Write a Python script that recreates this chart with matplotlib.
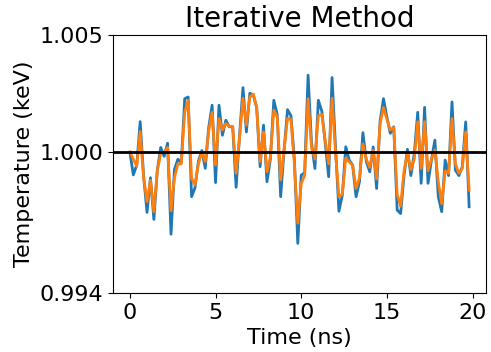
import matplotlib
matplotlib.use("Agg")
import matplotlib.pyplot as plt
import numpy as np

DT = 0.2  # ns between samples

TEMP_RAW = [
    1.00000, 0.99903, 0.99945, 1.00130, 0.99900, 0.99743, 0.99891, 0.99713, 0.99923, 1.00020,
    0.99982, 1.00038, 0.99650, 0.99926, 0.99970, 0.99955, 1.00228, 1.00235, 0.99810, 0.99848,
    0.99962, 1.00007, 0.99931, 1.00105, 1.00200, 0.99870, 1.00200, 1.00072, 1.00136, 1.00108,
    1.00108, 0.99850, 1.00070, 1.00275, 1.00086, 1.00251, 1.00243, 1.00190, 0.99938, 1.00115,
    0.99874, 0.99970, 1.00221, 1.00160, 0.99810, 1.00009, 1.00181, 1.00155, 0.99970, 0.99611,
    0.99902, 0.99912, 1.00328, 1.00040, 0.99930, 1.00221, 1.00175, 1.00040, 0.99895, 1.00318,
    1.00025, 0.99748, 0.99817, 1.00023, 0.99966, 0.99945, 0.99810, 0.99874, 1.00083, 0.99960,
    0.99916, 1.00022, 0.99845, 1.00130, 1.00228, 1.00150, 1.00080, 1.00108, 0.99753, 0.99738,
    0.99900, 1.00012, 0.99900, 0.99995, 1.00170, 0.99867, 1.00191, 0.99867, 0.99966, 1.00051,
    0.99810, 0.99746, 0.99966, 0.99900, 1.00214, 0.99923, 0.99900, 0.99938, 1.00129, 0.99767,
]

TEMP_ITER = [
    1.00000, 0.99970, 0.99940, 1.00088, 0.99890, 0.99789, 0.99880, 0.99746, 0.99920, 0.99996,
    1.00000, 1.00020, 0.99750, 0.99890, 0.99950, 0.99950, 1.00170, 1.00221, 0.99888, 0.99860,
    0.99950, 1.00000, 0.99960, 1.00090, 1.00170, 0.99945, 1.00143, 1.00094, 1.00122, 1.00110,
    1.00110, 0.99910, 1.00060, 1.00230, 1.00115, 1.00235, 1.00248, 1.00190, 0.99960, 1.00086,
    0.99916, 0.99980, 1.00179, 1.00150, 0.99881, 1.00010, 1.00143, 1.00140, 0.99950, 0.99697,
    0.99867, 0.99900, 1.00228, 1.00020, 0.99970, 1.00157, 1.00160, 1.00050, 0.99950, 1.00230,
    1.00000, 0.99810, 0.99820, 0.99975, 0.99958, 0.99945, 0.99845, 0.99890, 1.00035, 0.99970,
    0.99935, 1.00008, 0.99885, 1.00120, 1.00190, 1.00140, 1.00095, 1.00105, 0.99820, 0.99770,
    0.99920, 0.99995, 0.99925, 0.99970, 1.00130, 0.99930, 1.00130, 0.99920, 0.99970, 1.00010,
    0.99874, 0.99780, 0.99920, 0.99910, 1.00143, 0.99950, 0.99910, 0.99930, 1.00086, 0.99838,
]

Y_TICKS = [0.994, 1.000, 1.005]


def main() -> None:
    t = np.arange(len(TEMP_RAW)) * DT

    fig = plt.figure(figsize=(4.91, 3.52), dpi=100)
    ax = fig.add_axes([0.230, 0.168, 0.760, 0.733])

    ax.plot(t, TEMP_RAW, color="tab:blue", linewidth=2)
    ax.plot(t, TEMP_ITER, color="tab:orange", linewidth=2)
    ax.axhline(1.0, color="black", linewidth=2)

    ax.set_ylim(0.994, 1.005)
    ax.set_yticks(Y_TICKS)
    ax.set_yticklabels([f"{v:.3f}" for v in Y_TICKS])
    ax.set_xticks([0, 5, 10, 15, 20])
    ax.tick_params(labelsize=16)

    ax.set_xlabel("Time (ns)", fontsize=16)
    ax.set_ylabel("Temperature (keV)", fontsize=16)
    ax.set_title("Iterative Method", fontsize=20)

    fig.savefig("out.png", dpi=100)
    plt.close(fig)


if __name__ == "__main__":
    main()
